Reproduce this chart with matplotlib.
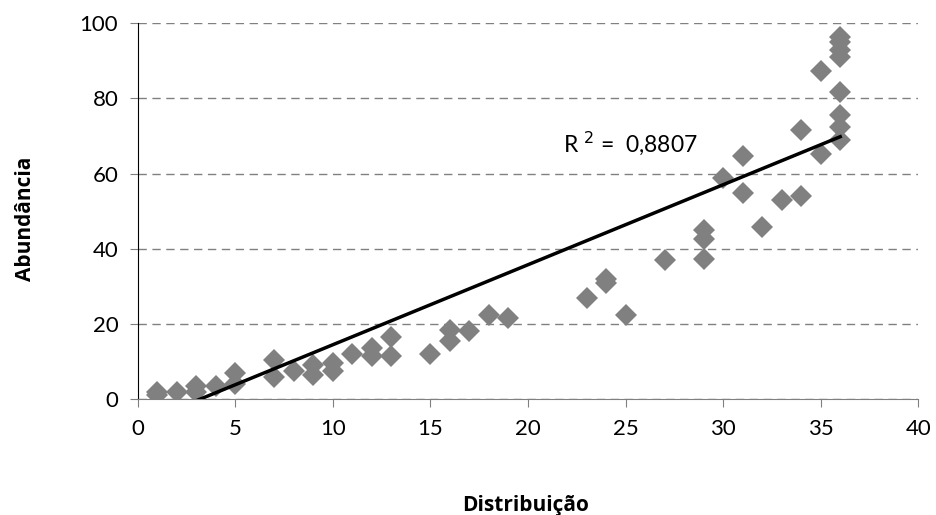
import numpy as np
import matplotlib.pyplot as plt

plt.rcParams['font.family'] = ['Lato', 'DejaVu Sans']

# distribuicao (numero de pontos) e abundancia de cada especie
distribuicao = [1, 1, 2, 3, 3, 4, 5, 5, 7, 7, 8, 9, 9, 10, 10, 11, 12, 12, 13, 13,
                15, 16, 16, 17, 18, 19, 23, 24, 24, 25, 27, 29, 29, 29, 30, 31, 31,
                32, 33, 34, 34, 35, 35, 36, 36, 36, 36, 36, 36, 36, 36]
abundancia = [1, 2, 2, 2, 3.5, 3.5, 4, 7, 6, 10.5, 7.5, 6.5, 9, 7.5, 9.5, 12, 11.5, 13.5, 11.5, 16.5,
              12, 15.5, 18.5, 18, 22.5, 21.5, 27, 31, 32, 22.5, 37, 37.4, 42.5, 44.9, 58.7, 54.9, 64.6,
              45.8, 52.9, 54, 71.5, 65.3, 87.3, 68.9, 72.4, 75.5, 81.7, 91, 92.8, 95, 96.4]

# linha de tendencia linear (y = a*x + b) e o seu R2
tendencia_a = 2.128
tendencia_b = -6.81
r2_texto = 'R $^{2}$ =  0,8807'

x = np.array(distribuicao, dtype=float)
y = np.array(abundancia, dtype=float)

fig = plt.figure(figsize=(9.37, 5.15), dpi=100)
ax = fig.add_axes([0.147, 0.225, 0.833, 0.730])

ax.yaxis.grid(True, linestyle=(0, (6, 4)), color='#808080', linewidth=1)
ax.set_axisbelow(True)

ax.plot(x, y, 'D', color='#808080', markersize=11, markeredgewidth=0, zorder=3)

xs = np.array([x.min(), x.max()])
ax.plot(xs, tendencia_a * xs + tendencia_b, color='black', linewidth=2.5, zorder=4)

ax.text(21.8, 68, r2_texto, fontsize=16.5, va='center')

ax.set_xlim(0, 40)
ax.set_ylim(0, 100)
ax.set_xticks(range(0, 41, 5))
ax.set_yticks(range(0, 101, 20))
ax.tick_params(labelsize=16, direction='out', length=6, color='#808080', pad=8)

for lado in ['top', 'right']:
    ax.spines[lado].set_visible(False)
ax.spines['left'].set_color('black')
ax.spines['bottom'].set_color('#808080')

ax.set_xlabel('Distribuição', fontsize=15, fontweight='bold', family='Open Sans', va='center')
ax.set_ylabel('Abundância', fontsize=15, fontweight='bold', family='Open Sans', va='center')
ax.xaxis.set_label_coords(0.497, -0.282)
ax.yaxis.set_label_coords(-0.144, 0.479)

fig.savefig('out.png', dpi=100)
